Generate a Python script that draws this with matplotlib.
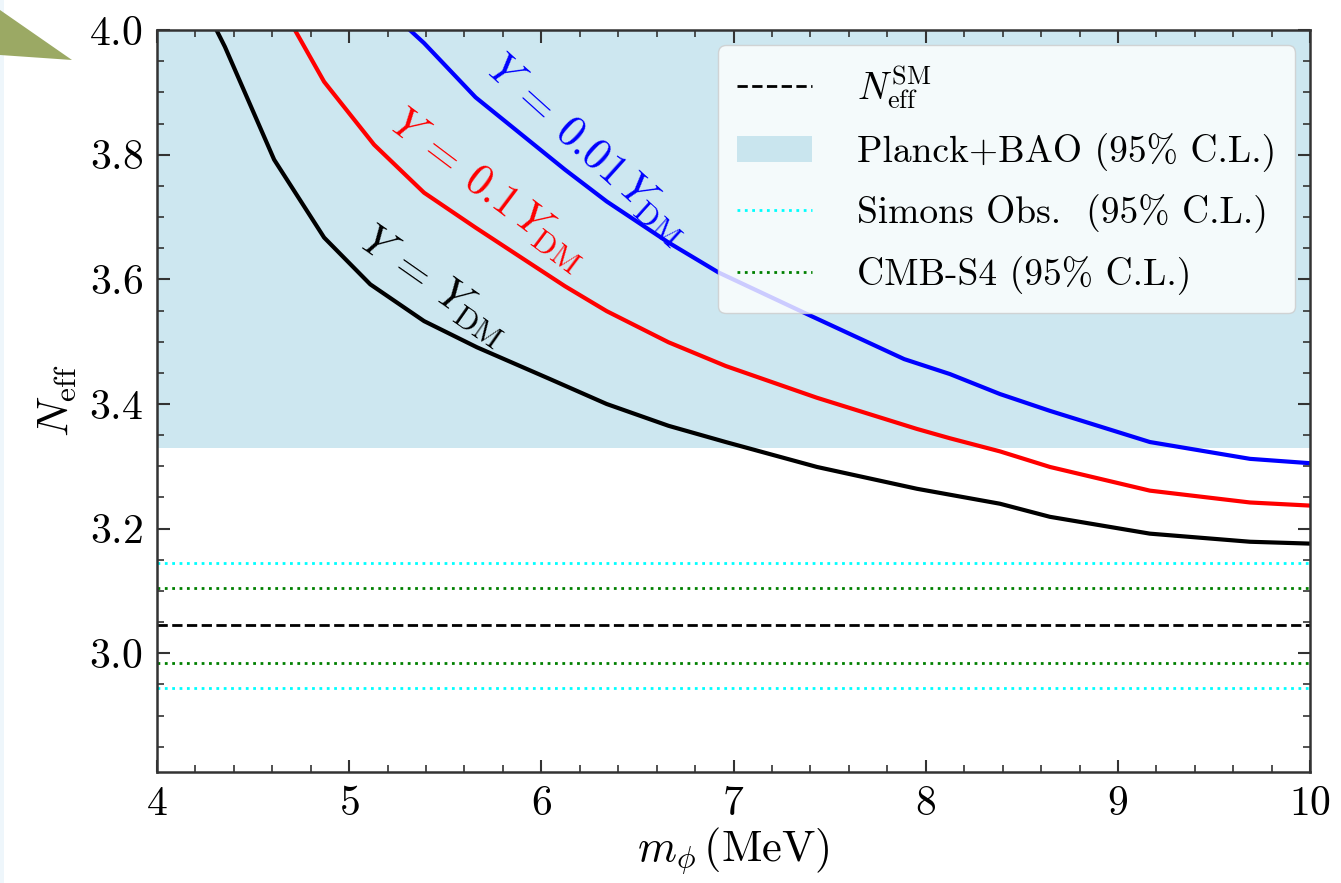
import matplotlib
matplotlib.use('Agg')
import matplotlib.pyplot as plt
from matplotlib.patches import Polygon, Rectangle
from matplotlib.ticker import MultipleLocator

plt.rcParams['font.family'] = 'serif'
plt.rcParams['font.serif'] = ['cmr10']
plt.rcParams['mathtext.fontset'] = 'cm'
plt.rcParams['axes.formatter.use_mathtext'] = True

# curves (m_phi in MeV, N_eff)
m_black = [4.31, 4.354, 4.61, 4.87, 5.11, 5.39, 5.665, 6.045, 6.34, 6.662, 6.959,
           7.434, 7.954, 8.386, 8.646, 9.166, 9.687, 10.0]
n_black = [4.0, 3.973, 3.792, 3.667, 3.592, 3.533, 3.491, 3.44, 3.40, 3.365, 3.339,
           3.299, 3.264, 3.24, 3.219, 3.192, 3.179, 3.176]

m_red = [4.718, 4.87, 5.13, 5.39, 5.658, 5.91, 6.123, 6.34, 6.662, 6.959, 7.434,
         7.954, 8.126, 8.386, 8.646, 9.166, 9.687, 10.0]
n_red = [4.0, 3.917, 3.816, 3.739, 3.683, 3.632, 3.589, 3.549, 3.499, 3.461, 3.410,
         3.36, 3.345, 3.324, 3.299, 3.261, 3.242, 3.237]

m_blue = [5.316, 5.39, 5.658, 6.123, 6.34, 6.662, 6.922, 7.405, 7.888, 8.126, 8.386,
          8.646, 9.166, 9.687, 10.0]
n_blue = [4.0, 3.979, 3.892, 3.776, 3.725, 3.659, 3.611, 3.541, 3.472, 3.448, 3.416,
          3.389, 3.339, 3.312, 3.305]

n_sm = 3.045
planck_low = 3.33
simons = [2.945, 3.145]
cmbs4 = [2.985, 3.105]

fig = plt.figure(figsize=(13.41, 8.83), dpi=100)
ax = fig.add_axes([0.117, 0.126, 0.860, 0.840])

ax.axhspan(planck_low, 4.2, color='lightblue', alpha=0.6, lw=0, label='Planck+BAO (95% C.L.)')
ax.axhline(n_sm, color='black', ls='--', lw=2, label=r'$N_{\rm eff}^{\rm SM}$')
ax.axhline(simons[0], color='cyan', ls=':', lw=2, label='Simons Obs.  (95% C.L.)')
ax.axhline(simons[1], color='cyan', ls=':', lw=2)
ax.axhline(cmbs4[0], color='green', ls=':', lw=2, label='CMB-S4 (95% C.L.)')
ax.axhline(cmbs4[1], color='green', ls=':', lw=2)

ax.plot(m_black, n_black, color='black', lw=3)
ax.plot(m_red, n_red, color='red', lw=3)
ax.plot(m_blue, n_blue, color='blue', lw=3)

ax.text(5.44, 3.589, r'$Y\:=\:Y_{\rm DM}$', color='black', fontsize=32,
        rotation=-35, ha='center', va='center')
ax.text(5.72, 3.744, r'$Y\:=\:0.1\,Y_{\rm DM}$', color='red', fontsize=32,
        rotation=-37, ha='center', va='center')
ax.text(6.24, 3.808, r'$Y\:=\:0.01\,Y_{\rm DM}$', color='blue', fontsize=32,
        rotation=-42, ha='center', va='center')

ax.set_xlim(4, 10)
ax.set_ylim(2.81, 4.0)
ax.xaxis.set_major_locator(MultipleLocator(1))
ax.xaxis.set_minor_locator(MultipleLocator(0.2))
ax.yaxis.set_major_locator(MultipleLocator(0.2))
ax.yaxis.set_minor_locator(MultipleLocator(0.05))
ax.tick_params(which='both', direction='in', top=True, right=True, labelsize=30, colors='#333333')
ax.tick_params(which='major', length=9, width=1.5, pad=10)
ax.tick_params(which='minor', length=5, width=1.2)
ax.tick_params(labelcolor='black')
for s in ax.spines.values():
    s.set_linewidth(1.8)
    s.set_color('#333333')

ax.set_xlabel(r'$m_\phi\,(\mathrm{MeV})$', fontsize=32, labelpad=2)
ax.set_ylabel(r'$N_{\rm eff}$', fontsize=32, labelpad=8)

h, l = ax.get_legend_handles_labels()
order = [1, 0, 2, 3]
ax.legend([h[i] for i in order], [l[i] for i in order], loc='upper right', fontsize=27,
          labelspacing=0.6, handlelength=2.0, handletextpad=1.2, borderpad=0.5,
          borderaxespad=0.4)

# slide decoration in the corner
fig.patches.append(Rectangle((0, 0), 4/1341, 1, transform=fig.transFigure,
                             color='#eef6fb', lw=0))
fig.patches.append(Polygon([[0, 1 - 10/883], [72/1341, 1 - 60/883], [0, 1 - 55/883]],
                           closed=True, transform=fig.transFigure, color='#9ba964', lw=0))

fig.savefig('out.png', dpi=100)
